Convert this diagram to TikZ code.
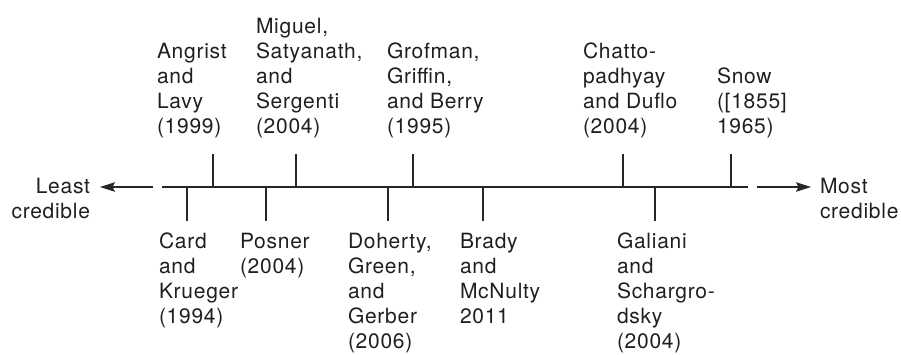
\documentclass[tikz,border=0pt]{standalone}
\usepackage{fontspec}
\setmainfont{TeX Gyre Heros}[LetterSpace=3.5]
\usetikzlibrary{arrows.meta}
% stacked label lines: \upstack keeps its last line on the baseline,
% \downstack its first line
\newcommand\upstack[1]{\vbox{\baselineskip=25pt\lineskiplimit=-50pt\halign{##\hfil\cr#1\crcr}}}
\newcommand\downstack[1]{\vtop{\baselineskip=25pt\lineskiplimit=-50pt\halign{##\hfil\cr#1\crcr}}}
\newcommand\rightstack[1]{\vtop{\baselineskip=25pt\lineskiplimit=-50pt\halign{\hfil##\cr#1\crcr}}}
\begin{document}
\begin{tikzpicture}[x=1pt,y=-1pt,
  every node/.style={inner sep=0pt,outer sep=0pt,text=black!88,font=\fontsize{21}{25}\selectfont},
  axisline/.style={line width=1.15pt,draw=black!85},
  tick/.style={line width=1.15pt,draw=black!85},
  dirarrow/.style={line width=1.15pt,draw=black!85,-{Stealth[length=15pt,width=9.5pt,inset=2.5pt]}},
  above label/.style={anchor=base west},
  below label/.style={anchor=base west}]
\useasboundingbox (0,0) rectangle (901,354);

% the scale
\coordinate (axisL) at (162,187);
\coordinate (axisR) at (748,187);
\draw[axisline] (axisL) -- (axisR);

% direction arrows and their words
\coordinate (leftStart) at (153,187);
\coordinate (leftTip) at (100,187);
\coordinate (rightStart) at (757,187);
\coordinate (rightTip) at (811,187);
\draw[dirarrow] (leftStart) -- (leftTip);
\draw[dirarrow] (rightStart) -- (rightTip);
\node[anchor=base east] (least) at (90,193) {\rightstack{Least\cr credible}};
\node[anchor=base west] (most) at (820,193) {\downstack{Most\cr credible}};

% studies above the scale
\node[above label] (angrist) at (157,133) {\upstack{Angrist\cr and\cr Lavy\cr (1999)}};
\node[above label] (miguel) at (256,133) {\upstack{Miguel,\cr Satyanath,\cr and\cr Sergenti\cr (2004)}};
\node[above label] (grofman) at (387,133) {\upstack{Grofman,\cr Griffin,\cr and Berry\cr (1995)}};
\node[above label] (chatto) at (583,133) {\upstack{Chatto-\cr padhyay\cr and Duflo\cr (2004)}};
\node[above label] (snow) at (717,133) {\upstack{Snow\cr ([1855]\cr 1965)}};

\foreach \n/\x in {angrist/213,miguel/296,grofman/413,chatto/623,snow/731}{
  \coordinate (\n-top) at (\x,154);
  \coordinate (\n-base) at (\x,187);
  \draw[tick] (\n-base) -- (\n-top);
}

% studies below the scale
\node[below label] (card) at (159,248) {\downstack{Card\cr and\cr Krueger\cr (1994)}};
\node[below label] (posner) at (240,248) {\downstack{Posner\cr (2004)}};
\node[below label] (doherty) at (348,248) {\downstack{Doherty,\cr Green,\cr and\cr Gerber\cr (2006)}};
\node[below label] (brady) at (460,248) {\downstack{Brady\cr and\cr McNulty\cr 2011}};
\node[below label] (galiani) at (617,248) {\downstack{Galiani\cr and\cr Schargro-\cr dsky\cr (2004)}};

\foreach \n/\x in {card/187,posner/266,doherty/388,brady/483,galiani/655}{
  \coordinate (\n-top) at (\x,187);
  \coordinate (\n-end) at (\x,221);
  \draw[tick] (\n-top) -- (\n-end);
}
\end{tikzpicture}
\end{document}
